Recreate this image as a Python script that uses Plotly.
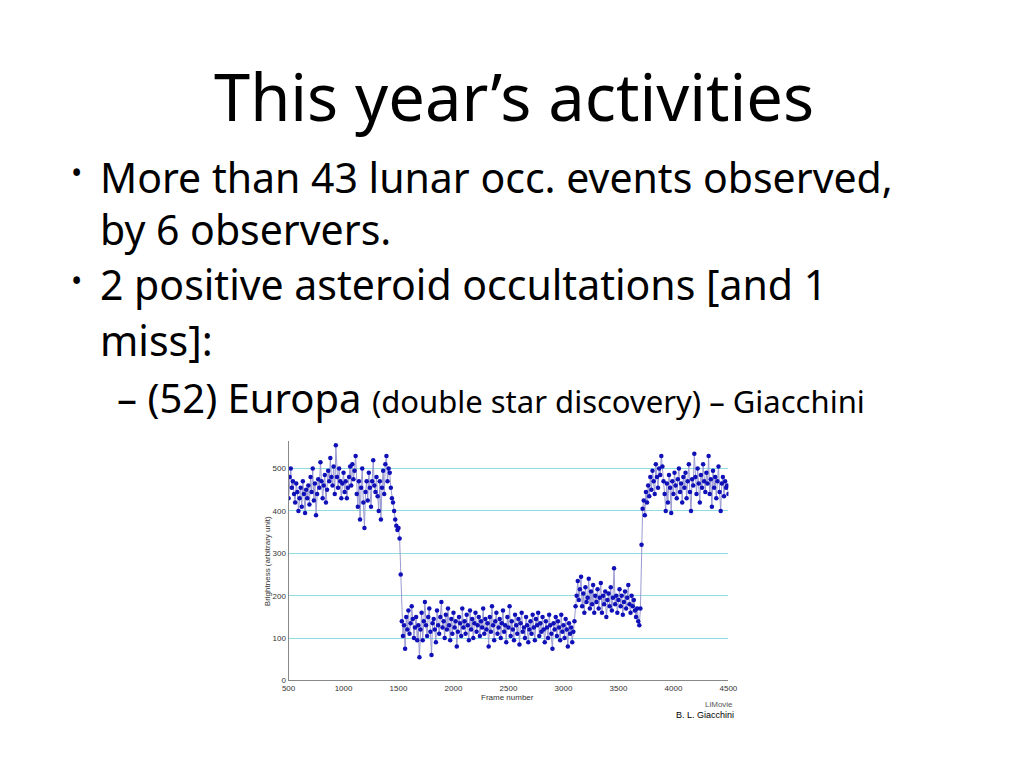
import plotly.graph_objects as go

# slide text
title_text = "This year’s activities"
bullet_lines = [
    "More than 43 lunar occ. events observed,",
    "by 6 observers.",
    "2 positive asteroid occultations [and 1",
    "miss]:",
]

# light curve of (52) Europa, one reading every 10 frames
frame_start = 500
frame_step = 10
brightness = [
    430, 480, 500, 455, 470, 440, 420, 465, 445, 400, 430, 455, 410, 470, 440, 395, 450, 430, 460, 415,
    480, 445, 500, 425, 465, 390, 440, 475, 455, 515, 470, 430, 460, 485, 420, 450, 495, 470, 525, 480,
    460, 505, 440, 555, 480, 455, 500, 470, 430, 465, 490, 445, 470, 430, 455, 480, 505, 460, 510, 475,
    495, 530, 440, 410, 470, 380, 455, 500, 420, 360, 445, 470, 425, 490, 455, 410, 470, 520, 460, 445,
    480, 435, 400, 470, 380, 455, 495, 440, 510, 530, 470, 500, 490, 455, 430, 420, 400, 380, 365, 355,
    360, 335, 250, 140, 105, 130, 75, 150, 120, 165, 110, 135, 175, 145, 100, 125, 150, 95, 130, 55,
    120, 160, 95, 140, 185, 130, 105, 150, 170, 115, 60, 135, 145, 120, 90, 165, 130, 110, 150, 185,
    125, 140, 100, 155, 120, 170, 130, 95, 145, 110, 160, 125, 140, 80, 115, 150, 135, 105, 170, 125,
    140, 110, 155, 130, 95, 165, 120, 145, 100, 135, 160, 115, 130, 150, 105, 140, 125, 170, 110, 145,
    120, 135, 80, 150, 115, 175, 130, 95, 140, 160, 110, 125, 145, 100, 135, 165, 115, 130, 90, 150,
    125, 175, 105, 140, 120, 95, 155, 130, 110, 145, 85, 135, 160, 115, 125, 100, 150, 130, 90, 120,
    140, 110, 155, 125, 95, 145, 130, 160, 105, 135, 115, 150, 120, 90, 140, 125, 100, 155, 130, 110,
    75, 135, 120, 150, 105, 140, 125, 95, 155, 115, 130, 100, 145, 120, 80, 135, 110, 125, 90, 115,
    140, 175, 200, 235, 190, 215, 245, 175, 205, 160, 220, 185, 195, 240, 170, 210, 180, 225, 160, 200,
    185, 215, 170, 195, 230, 160, 200, 180, 210, 150, 190, 205, 175, 220, 165, 195, 265, 180, 200, 160,
    190, 215, 175, 200, 155, 185, 210, 170, 195, 225, 180, 160, 200, 175, 190, 165, 150, 170, 140, 130,
    170, 320, 405, 425, 390, 445, 420, 460, 435, 480, 450, 495, 470, 440, 510, 480, 455, 500, 485, 530,
    505, 470, 440, 400, 465, 420, 485, 455, 395, 470, 440, 490, 460, 430, 475, 500, 445, 465, 420, 480,
    455, 490, 430, 470, 510, 445, 400, 475, 460, 535, 480, 440, 500, 465, 420, 485, 455, 510, 470, 445,
    490, 465, 530, 440, 475, 410, 495, 455, 480, 430, 470, 505, 445, 400, 465, 480, 435, 470, 455, 460,
    440,
]
frames = [frame_start + i * frame_step for i in range(len(brightness))]

x_ticks = [500, 1000, 1500, 2000, 2500, 3000, 3500, 4000, 4500]
y_ticks = [0, 100, 200, 300, 400, 500]

# page body has an 8px margin; keep the figure small enough to avoid scrollbars
OFF = 8
W, H = 1000, 744
FONT = "Noto Sans"


def px(x):
    return (x - OFF) / W


def py(y):
    return 1 - (y - OFF) / H


fig = go.Figure()

fig.add_trace(
    go.Scatter(
        x=frames,
        y=brightness,
        mode="lines+markers",
        line=dict(color="#9a9ad0", width=1),
        marker=dict(color="#1010b8", size=4.5),
        showlegend=False,
    )
)

annotations = [
    dict(x=px(515), y=py(97), text=title_text, font=dict(size=65, family=FONT, color="black")),
]

# bullets
bullet_rows = [(178, 0, True), (230, 1, False), (286, 2, True), (342, 3, False)]
for y, idx, dot in bullet_rows:
    annotations.append(
        dict(x=px(92), y=py(y), text=bullet_lines[idx], xanchor="left",
             font=dict(size=41, family=FONT, color="black"))
    )
    if dot:
        annotations.append(
            dict(x=px(70), y=py(y - 4), text="•", font=dict(size=30, family=FONT, color="black"))
        )

annotations.append(
    dict(x=px(110), y=py(400), xanchor="left",
         text="– (52) Europa <span style='font-size:31px'>(double star discovery) – Giacchini</span>",
         font=dict(size=40, family=FONT, color="black"))
)

# chart labels
annotations += [
    dict(x=px(508), y=py(702), text="Frame number", font=dict(size=8, family="Liberation Sans", color="#333")),
    dict(x=px(264), y=py(565), text="Brightness (arbitrary unit)", textangle=-90,
         font=dict(size=8, family="Liberation Sans", color="#333")),
    dict(x=px(740), y=py(709), text="LiMovie", xanchor="right",
         font=dict(size=8, family="Liberation Sans", color="#555")),
    dict(x=px(741), y=py(720), text="B. L. Giacchini", xanchor="right",
         font=dict(size=9, family="Liberation Sans", color="black")),
]
for a in annotations:
    a.update(xref="paper", yref="paper", showarrow=False)
    a.setdefault("xanchor", "center")
    a.setdefault("yanchor", "middle")

fig.update_layout(
    width=W,
    height=H,
    autosize=False,
    margin=dict(l=0, r=0, t=0, b=0),
    paper_bgcolor="white",
    plot_bgcolor="white",
    annotations=annotations,
    xaxis=dict(
        domain=[px(286), px(733)],
        range=[500, 4500],
        tickvals=x_ticks,
        showgrid=False,
        zeroline=False,
        showline=True,
        linecolor="#888",
        linewidth=1,
        ticks="",
        tickfont=dict(size=8, family="Liberation Sans", color="#333"),
    ),
    yaxis=dict(
        domain=[py(685), py(444)],
        range=[0, 565],
        tickvals=y_ticks,
        showgrid=True,
        gridcolor="#8fdde0",
        gridwidth=1,
        zeroline=False,
        showline=True,
        linecolor="#888",
        linewidth=1,
        ticks="",
        tickfont=dict(size=8, family="Liberation Sans", color="#333"),
    ),
)

fig.write_html("out.html")
